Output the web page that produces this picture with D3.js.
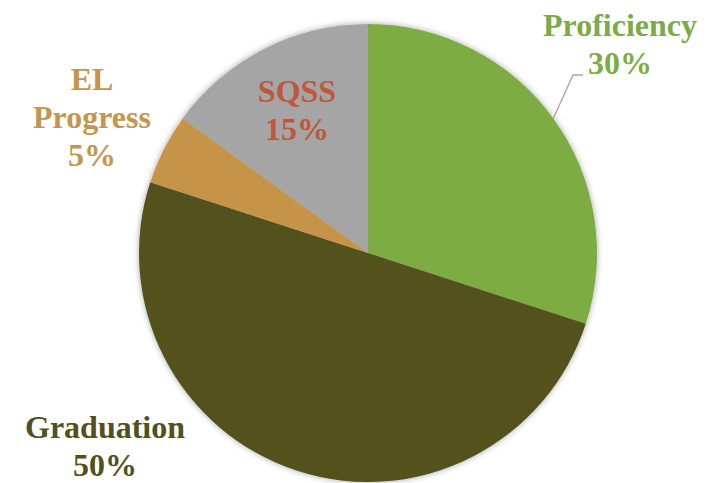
<!DOCTYPE html>
<html>
<head>
<meta charset="utf-8">
<script src="https://cdn.jsdelivr.net/npm/d3@7"></script>
<style>
  body { margin: 0; background: #fff; }
  .lbl { font-family: "Liberation Serif", serif; font-weight: bold; font-size: 32px; }
</style>
</head>
<body>
<svg id="chart"></svg>
<script>
// chart data
const categories = ['Proficiency', 'Graduation', 'EL Progress', 'SQSS'];
const shares = [30, 50, 5, 15];
const sliceColors = ['#7cac43', '#52511c', '#c6944a', '#a5a5a5'];
const labelColors = ['#7cac43', '#52511c', '#c6944a', '#c0573c'];

const width = 718, height = 483;
const cx = 368, cy = 253, radius = 229;

// where each label block is centred (first baseline), tuned by eye
const labelSpots = [
  {x: 620, y: 36, lines: ['Proficiency']},
  {x: 105, y: 438, lines: ['Graduation']},
  {x: 92, y: 90, lines: ['EL', 'Progress']},
  {x: 297, y: 102, lines: ['SQSS']}
];

const svg = d3.select('#chart')
    .attr('width', width)
    .attr('height', height);

const defs = svg.append('defs');
const shadow = defs.append('filter')
    .attr('id', 'shadow')
    .attr('x', '-10%').attr('y', '-10%')
    .attr('width', '120%').attr('height', '120%');
shadow.append('feDropShadow')
    .attr('dx', 0).attr('dy', 0)
    .attr('stdDeviation', 3)
    .attr('flood-color', '#000')
    .attr('flood-opacity', 0.35);

const data = categories.map((c, i) => ({name: c, value: shares[i], i: i}));

const pie = d3.pie()
    .value(d => d.value)
    .sort(null);

const arc = d3.arc()
    .innerRadius(0)
    .outerRadius(radius);

const g = svg.append('g')
    .attr('transform', `translate(${cx},${cy})`);

const arcs = pie(data);

g.append('g')
    .attr('filter', 'url(#shadow)')
  .selectAll('path')
  .data(arcs)
  .join('path')
    .attr('d', arc)
    .attr('fill', d => sliceColors[d.data.i]);

// leader line for Proficiency
const prof = arcs[0];
const mid = (prof.startAngle + prof.endAngle) / 2;
const edge = [radius * Math.sin(mid), -radius * Math.cos(mid)];
g.append('polyline')
    .attr('points', [edge, [573 - cx, 75 - cy], [583 - cx, 75 - cy]].map(p => p.join(',')).join(' '))
    .attr('fill', 'none')
    .attr('stroke', '#a6a6a6')
    .attr('stroke-width', 1.3);

// labels
const lineGap = 38;
arcs.forEach((a, i) => {
  const spot = labelSpots[i];
  const lines = spot.lines.concat([a.data.value + '%']);
  const t = svg.append('text')
      .attr('class', 'lbl')
      .attr('text-anchor', 'middle')
      .attr('fill', labelColors[i]);
  lines.forEach((ln, k) => {
    t.append('tspan')
        .attr('x', spot.x)
        .attr('y', spot.y + k * lineGap)
        .text(ln);
  });
});
</script>
</body>
</html>
